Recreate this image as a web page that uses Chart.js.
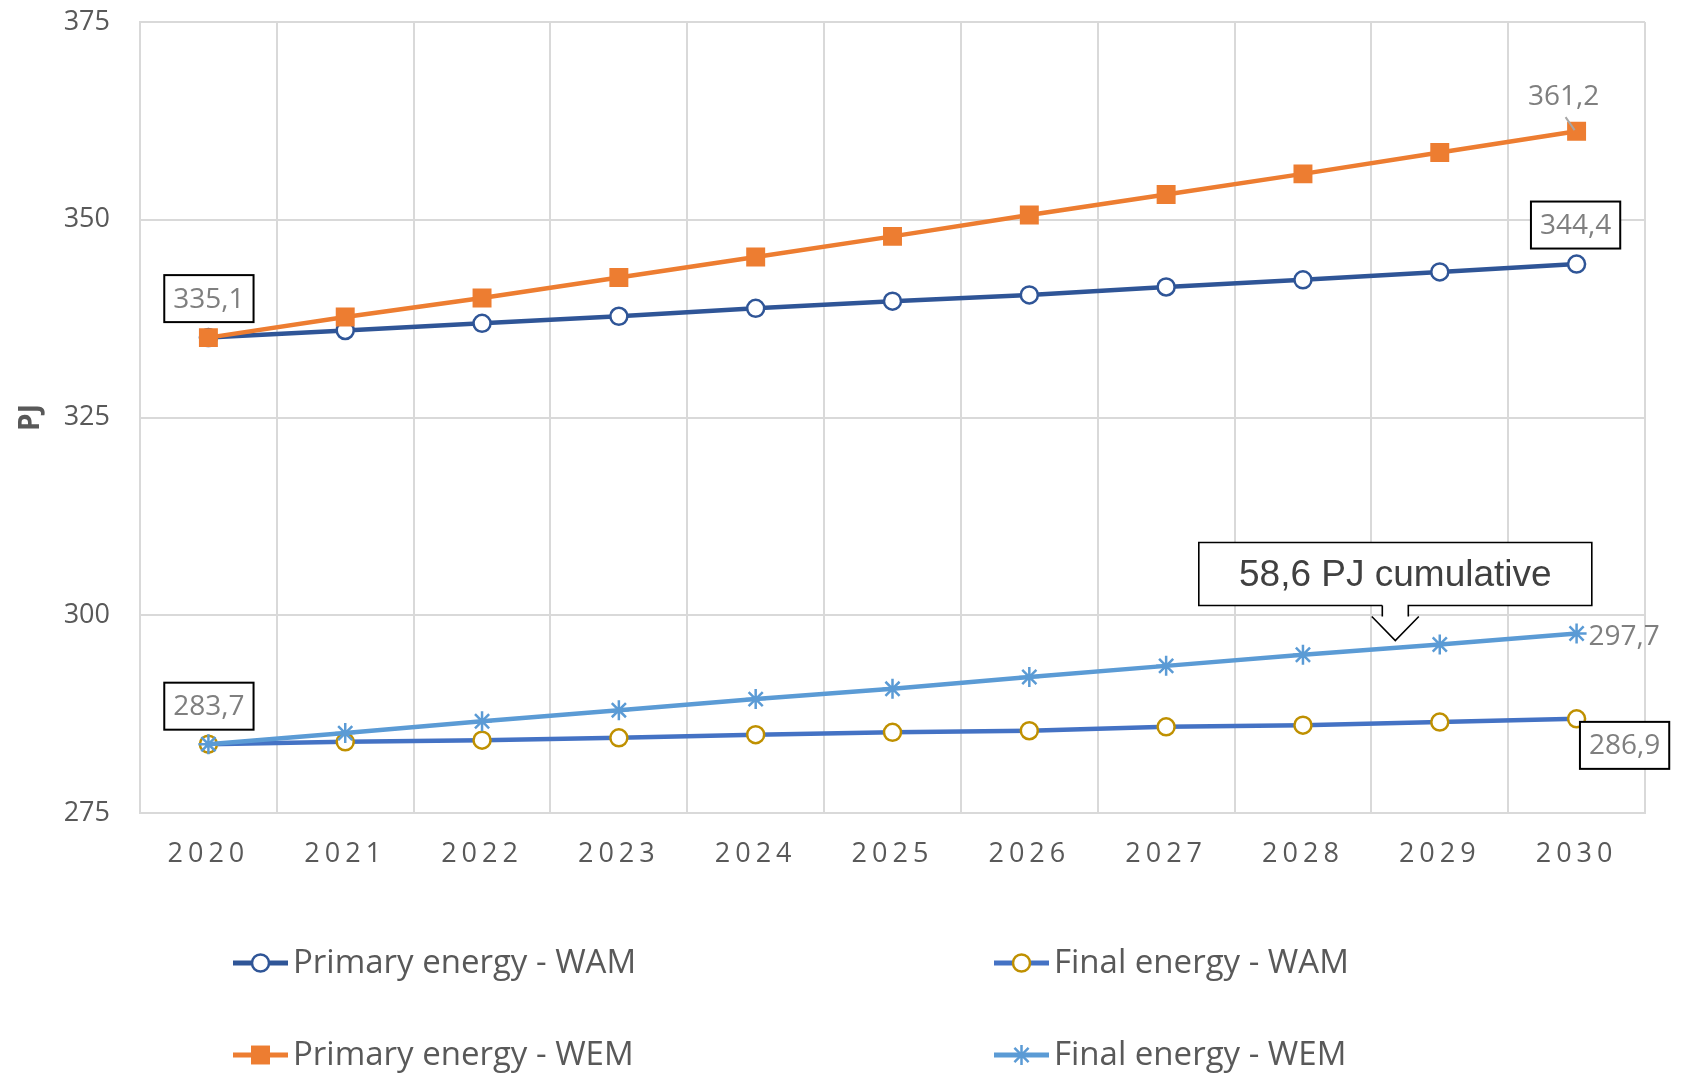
<!DOCTYPE html>
<html>
<head>
<meta charset="utf-8">
<script src="https://cdn.jsdelivr.net/npm/chart.js@4/dist/chart.umd.min.js"></script>
<style>
html,body{margin:0;padding:0;background:#ffffff;}
#wrap{width:1695px;height:1073px;position:relative;overflow:hidden;}
canvas{display:block;}
</style>
</head>
<body>
<div id="wrap"><canvas id="c" width="1695" height="1073"></canvas></div>
<script>
// ---- data ----
const years = ['2020','2021','2022','2023','2024','2025','2026','2027','2028','2029','2030'];
const primaryWAM = [335.1, 336.0, 336.9, 337.8, 338.8, 339.7, 340.5, 341.5, 342.4, 343.4, 344.4];
const primaryWEM = [335.1, 337.7, 340.1, 342.7, 345.3, 347.9, 350.6, 353.2, 355.8, 358.5, 361.2];
const finalWAM   = [283.7, 284.0, 284.2, 284.5, 284.9, 285.2, 285.4, 285.9, 286.1, 286.5, 286.9];
const finalWEM   = [283.7, 285.1, 286.6, 288.0, 289.4, 290.7, 292.2, 293.6, 295.0, 296.3, 297.7];
const yMin = 275, yMax = 375, yStep = 25;
const seriesNames = ['Primary energy - WAM', 'Primary energy - WEM', 'Final energy - WAM', 'Final energy - WEM'];
const axisTitle = 'PJ';
const calloutText = '58,6 PJ cumulative';
const calloutAnchor = {x: 8.675, y: 296.8}; // category index position, value

const GREY_TXT = '#595959';
const fmt = v => v.toFixed(1).replace('.', ',');

// letter spacing for x tick labels
const letterSpacingPlugin = {
  id: 'xLetterSpacing',
  beforeDraw(chart) {
    const xs = chart.scales.x;
    if (xs && !xs._lsPatched) {
      const orig = xs.drawLabels.bind(xs);
      xs.drawLabels = function (area) {
        const ctx = this.ctx;
        ctx.save();
        ctx.letterSpacing = '5px';
        orig(area);
        ctx.restore();
      };
      xs._lsPatched = true;
    }
  }
};

// data labels and callout
const labelPlugin = {
  id: 'labels',
  afterDatasetsDraw(chart) {
    const ctx = chart.ctx;
    const pt = (ds, i) => chart.getDatasetMeta(ds).data[i];
    const specs = [
      {ds: 1, i: 0, dx: 0.5, dy: -39, box: true},
      {ds: 0, i: 10, dx: -1, dy: -39, box: true},
      {ds: 1, i: 10, dx: -13, dy: -35, box: false, leader: true},
      {ds: 2, i: 0, dx: 0.5, dy: -38, box: true},
      {ds: 3, i: 10, dx: 12, dy: 3, box: false, left: true},
      {ds: 2, i: 10, dx: 48, dy: 26.5, box: true}
    ];
    const srcs = [primaryWAM, primaryWEM, finalWAM, finalWEM];
    ctx.save();
    ctx.font = '28px "Open Sans"';
    ctx.textBaseline = 'middle';
    specs.forEach(s => {
      const p = pt(s.ds, s.i);
      const txt = fmt(srcs[s.ds][s.i]);
      const cx = p.x + s.dx, cy = p.y + s.dy;
      const w = ctx.measureText(txt).width;
      if (s.leader) {
        ctx.strokeStyle = '#A6A6A6';
        ctx.lineWidth = 2;
        ctx.beginPath();
        ctx.moveTo(p.x - 11, p.y - 14);
        ctx.lineTo(p.x - 2, p.y - 1);
        ctx.stroke();
      }
      if (s.box) {
        const bw = w + 18, bh = 47;
        ctx.fillStyle = '#ffffff';
        ctx.fillRect(cx - bw / 2, cy - bh / 2, bw, bh);
        ctx.strokeStyle = '#000000';
        ctx.lineWidth = 2;
        ctx.strokeRect(cx - bw / 2, cy - bh / 2, bw, bh);
      }
      ctx.fillStyle = '#7F7F7F';
      ctx.textAlign = s.left ? 'left' : 'center';
      ctx.fillText(txt, cx, cy + 1);
    });

    // callout
    const xs = chart.scales.x, ys = chart.scales.y;
    const i0 = Math.floor(calloutAnchor.x);
    const x0 = xs.getPixelForValue(i0), x1 = xs.getPixelForValue(i0 + 1);
    const tx = x0 + (calloutAnchor.x - i0) * (x1 - x0);
    const ty = ys.getPixelForValue(calloutAnchor.y);
    const L = tx - 196.5, R = tx + 196.5, T = ty - 98, B = ty - 35;
    const sh = ty - 24;
    ctx.fillStyle = '#ffffff';
    ctx.beginPath();
    ctx.moveTo(L, T); ctx.lineTo(R, T); ctx.lineTo(R, B);
    ctx.lineTo(tx + 13, B); ctx.lineTo(tx + 13, sh); ctx.lineTo(tx + 23.5, sh);
    ctx.lineTo(tx, ty); ctx.lineTo(tx - 23.5, sh); ctx.lineTo(tx - 13, sh);
    ctx.lineTo(tx - 13, B); ctx.lineTo(L, B); ctx.closePath();
    ctx.fill();
    ctx.strokeStyle = '#000000';
    ctx.lineWidth = 1.6;
    ctx.beginPath();
    ctx.moveTo(tx - 13, B); ctx.lineTo(L, B); ctx.lineTo(L, T); ctx.lineTo(R, T); ctx.lineTo(R, B);
    ctx.lineTo(tx + 13, B); ctx.lineTo(tx + 13, sh);
    ctx.moveTo(tx + 23.5, sh); ctx.lineTo(tx, ty); ctx.lineTo(tx - 23.5, sh);
    ctx.moveTo(tx - 13, sh); ctx.lineTo(tx - 13, B);
    ctx.stroke();
    ctx.fillStyle = '#404040';
    ctx.font = '37px "Liberation Sans"';
    ctx.textAlign = 'center';
    ctx.textBaseline = 'middle';
    ctx.fillText(calloutText, tx, ty - 65);
    ctx.restore();
  }
};

// custom two-column legend
const legendPlugin = {
  id: 'customLegend',
  afterDraw(chart) {
    const ctx = chart.ctx;
    const colLine = [233, 994];
    const rowY = [963, 1055];
    ctx.save();
    chart.data.datasets.forEach((ds, i) => {
      const col = Math.floor(i / 2), row = i % 2;
      const x0 = colLine[col], x1 = x0 + 55, y = rowY[row];
      ctx.strokeStyle = ds.borderColor;
      ctx.lineWidth = 5;
      ctx.beginPath(); ctx.moveTo(x0, y); ctx.lineTo(x1, y); ctx.stroke();
      ctx.fillStyle = ds.pointBackgroundColor;
      ctx.strokeStyle = ds.pointBorderColor;
      ctx.lineWidth = ds.pointBorderWidth || 0.001;
      Chart.helpers.drawPoint(ctx, {pointStyle: ds.pointStyle, radius: ds.pointRadius, borderWidth: ds.pointBorderWidth || 0, rotation: 0}, (x0 + x1) / 2, y);
      ctx.fillStyle = GREY_TXT;
      ctx.font = '33px "Open Sans"';
      ctx.textAlign = 'left';
      ctx.textBaseline = 'middle';
      ctx.fillText(ds.label, x1 + 5, y + 1);
    });
    ctx.restore();
  }
};

const ctx = document.getElementById('c').getContext('2d');
new Chart(ctx, {
  type: 'line',
  data: {
    labels: years,
    datasets: [
      {label: seriesNames[0], data: primaryWAM, order: 1,
       borderColor: '#2F5597', borderWidth: 4.5,
       pointStyle: 'circle', pointRadius: 8.5, pointBackgroundColor: '#ffffff', pointBorderColor: '#2F5597', pointBorderWidth: 2.5},
      {label: seriesNames[1], data: primaryWEM, order: 0,
       borderColor: '#ED7D31', borderWidth: 4.5,
       pointStyle: 'rect', pointRadius: 13.4, pointBackgroundColor: '#ED7D31', pointBorderColor: '#ED7D31', pointBorderWidth: 0},
      {label: seriesNames[2], data: finalWAM, order: 3,
       borderColor: '#4472C4', borderWidth: 4.5,
       pointStyle: 'circle', pointRadius: 8.5, pointBackgroundColor: '#ffffff', pointBorderColor: '#BF9000', pointBorderWidth: 2.5},
      {label: seriesNames[3], data: finalWEM, order: 2,
       borderColor: '#5B9BD5', borderWidth: 4.5,
       pointStyle: 'star', pointRadius: 10, pointBackgroundColor: '#5B9BD5', pointBorderColor: '#5B9BD5', pointBorderWidth: 2.5}
    ]
  },
  options: {
    responsive: false,
    animation: false,
    devicePixelRatio: 1,
    layout: {padding: {top: 22, right: 50, bottom: 0, left: 0}},
    plugins: {legend: {display: false}, tooltip: {enabled: false}},
    elements: {line: {tension: 0}},
    scales: {
      x: {
        type: 'category',
        offset: true,
        grid: {offset: true, color: '#D9D9D9', lineWidth: 2, drawTicks: false},
        border: {color: '#D9D9D9', width: 2},
        ticks: {color: GREY_TXT, font: {family: 'Open Sans', size: 27}, padding: 25, maxRotation: 0, autoSkip: false},
        afterFit: s => { s.height = 260; }
      },
      y: {
        min: yMin, max: yMax,
        grid: {color: '#D9D9D9', lineWidth: 2, drawTicks: false},
        border: {color: '#D9D9D9', width: 2},
        ticks: {stepSize: yStep, color: GREY_TXT, font: {family: 'Open Sans', size: 27}, padding: 30},
        title: {display: true, text: axisTitle, color: GREY_TXT, font: {family: 'Open Sans', size: 28, weight: 'bold'}, padding: {top: 14, bottom: 0}},
        afterFit: s => { s.width = 140; s.paddingTop = 0; s.paddingBottom = 0; }
      }
    }
  },
  plugins: [letterSpacingPlugin, labelPlugin, legendPlugin]
});
</script>
</body>
</html>
